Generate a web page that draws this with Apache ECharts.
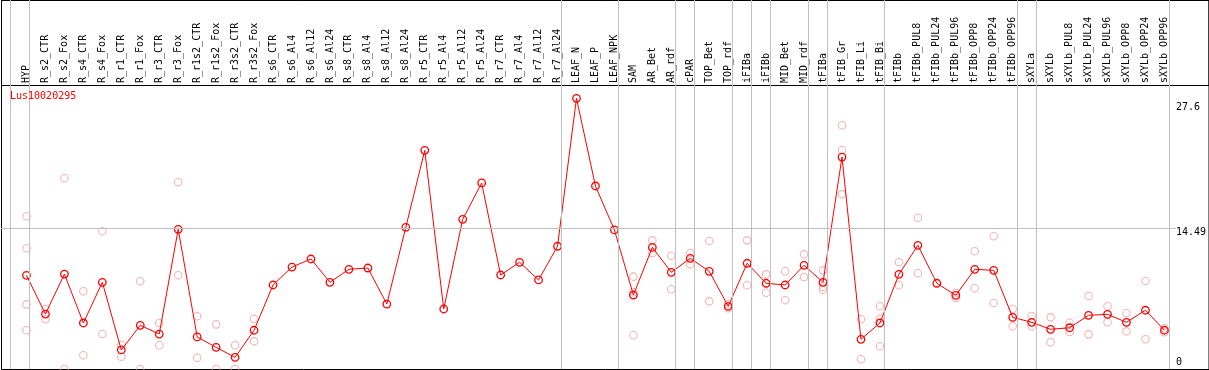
<!DOCTYPE html>
<html>
<head>
<meta charset="utf-8">
<script src="https://cdn.jsdelivr.net/npm/echarts@6/dist/echarts.min.js"></script>
<style>
html,body{margin:0;padding:0;background:#fff;}
#chart{width:1209px;height:370px;}
</style>
</head>
<body>
<div id="chart"></div>
<script>
const geneName = 'Lus10020295';
const categories = [
  'HYP','R_s2_CTR','R_s2_Fox','R_s4_CTR','R_s4_Fox','R_r1_CTR','R_r1_Fox','R_r3_CTR','R_r3_Fox',
  'R_r1s2_CTR','R_r1s2_Fox','R_r3s2_CTR','R_r3s2_Fox','R_s6_CTR','R_s6_Al4','R_s6_Al12','R_s6_Al24',
  'R_s8_CTR','R_s8_Al4','R_s8_Al12','R_s8_Al24','R_r5_CTR','R_r5_Al4','R_r5_Al12','R_r5_Al24',
  'R_r7_CTR','R_r7_Al4','R_r7_Al12','R_r7_Al24','LEAF_N','LEAF_P','LEAF_NPK','SAM','AR_Bet','AR_rdf',
  'cPAR','TOP_Bet','TOP_rdf','iFIBa','iFIBb','MID_Bet','MID_rdf','tFIBa','tFIB_Gr','tFIB_Li','tFIB_Bi',
  'tFIBb','tFIBb_PUL8','tFIBb_PUL24','tFIBb_PUL96','tFIBb_OPP8','tFIBb_OPP24','tFIBb_OPP96',
  'sXYLa','sXYLb','sXYLb_PUL8','sXYLb_PUL24','sXYLb_PUL96','sXYLb_OPP8','sXYLb_OPP24','sXYLb_OPP96'
];
const meanValues = [
  9.65, 5.66, 9.78, 4.74, 8.93, 1.96, 4.50, 3.60, 14.39,
  3.30, 2.23, 1.20, 3.99, 8.65, 10.50, 11.33, 8.93,
  10.27, 10.40, 6.69, 14.59, 22.52, 6.18, 15.42, 19.16,
  9.68, 10.99, 9.17, 12.64, 27.88, 18.85, 14.32, 7.62, 12.53, 9.96,
  11.40, 10.06, 6.46, 10.89, 8.83, 8.65, 10.68, 8.93, 21.83, 3.06, 4.74,
  9.75, 12.74, 8.83, 7.59, 10.27, 10.16, 5.32,
  4.81, 4.09, 4.25, 5.53, 5.63, 4.81, 6.05, 3.99
];
const replicateValues = [
  [15.73, 12.43, 6.66, 3.99], [6.15, 5.12], [19.64, 0], [8.00, 1.41], [14.18, 3.60],
  [2.47, 1.27], [9.03, 0], [4.74, 2.44], [19.23, 9.65],
  [5.43, 1.16], [4.60, 0], [2.44, 0], [5.18, 2.85], [], [], [], [],
  [], [], [], [], [], [], [], [],
  [], [], [], [], [], [], [], [9.51, 7.90, 3.47], [13.25, 11.95], [11.67, 8.21],
  [11.95, 10.78], [13.18, 6.97], [6.69, 6.25], [13.25, 8.62], [9.75, 7.86], [10.06, 7.08], [11.81, 9.47],
  [10.16, 8.48, 8.17], [25.10, 22.55, 17.99], [5.12, 1.00], [6.46, 5.18, 2.34],
  [10.99, 8.62], [15.58, 9.86], [], [7.86, 7.31], [12.12, 8.31], [13.67, 6.80], [6.18, 4.40],
  [5.46, 4.40], [5.32, 2.75], [4.77, 3.81], [7.52, 3.57], [6.46, 4.81], [5.77, 3.88], [9.06, 3.06], [4.19, 3.78]
];
// index of the first category of each group (separator line drawn before it)
const groupStarts = [0, 1, 29, 32, 35, 36, 38, 39, 40, 42, 43, 46, 53, 54, 61];
const yTickValues = [0, 14.49, 27.6];
const referenceLineValue = 14.49;

const MONO = 'DejaVu Sans Mono';
const repPoints = [];
replicateValues.forEach((arr, i) => arr.forEach(v => repPoints.push([i, v])));

const sepOffset = 16 / 19;
const chart = echarts.init(document.getElementById('chart'), null, {renderer: 'canvas'});
chart.setOption({
  animation: false,
  backgroundColor: '#ffffff',
  title: {
    text: geneName, left: 10, top: 91, padding: 0,
    textStyle: {color: '#ff0000', fontSize: 10, fontFamily: MONO, fontWeight: 'normal'}
  },
  grid: [
    {left: 17, right: 33, top: 85, height: 284},
    {left: 1, right: 33, top: 0, height: 369},
    {left: 1.5, right: -10, top: 0.5, height: 369, show: true, borderColor: '#000', borderWidth: 1, backgroundColor: 'transparent'},
    {left: 1.5, right: -10, top: 0.5, height: 85, show: true, borderColor: '#000', borderWidth: 1, backgroundColor: 'transparent'}
  ],
  xAxis: [
    {type: 'category', gridIndex: 0, position: 'top', data: categories, boundaryGap: true,
     axisLine: {show: false}, axisTick: {show: false}, splitLine: {show: false},
     axisLabel: {interval: 0, rotate: 90, margin: 2, fontFamily: MONO, fontSize: 10, color: '#000'}},
    {type: 'value', gridIndex: 1, min: -1.342, max: 60.5, show: false},
    {type: 'value', gridIndex: 2, show: false},
    {type: 'value', gridIndex: 3, show: false}
  ],
  yAxis: [
    {type: 'value', gridIndex: 0, position: 'right', min: 0, max: 29.25,
     axisLine: {show: false}, axisTick: {show: false}, splitLine: {show: false},
     axisLabel: {customValues: yTickValues, margin: 2, fontFamily: MONO, fontSize: 10, color: '#000',
       formatter: function (v) {
         if (v === 0) return '{a|0}';
         if (Math.abs(v - 14.49) < 1e-6) return '{b|14.49}';
         return '{c|' + v + '}';
       },
       rich: {
         a: {fontFamily: MONO, fontSize: 10, color: '#000', padding: [0, 0, 14, 0]},
         b: {fontFamily: MONO, fontSize: 10, color: '#000', padding: [8, 0, 0, 0]},
         c: {fontFamily: MONO, fontSize: 10, color: '#000', padding: [13, 0, 0, 0]}
       }}},
    {type: 'value', gridIndex: 1, min: 0, max: 38.0, show: false},
    {type: 'value', gridIndex: 2, show: false},
    {type: 'value', gridIndex: 3, show: false}
  ],
  series: [
    {
      type: 'line', xAxisIndex: 1, yAxisIndex: 1, data: [], z: 1, silent: true,
      markLine: {
        silent: true, symbol: 'none', animation: false,
        label: {show: false},
        lineStyle: {color: '#c0c0c0', width: 1, type: 'solid'},
        emphasis: {disabled: true},
        data: groupStarts.map(k => ({xAxis: k - sepOffset})).concat([{yAxis: referenceLineValue}])
      }
    },
    {
      type: 'scatter', xAxisIndex: 0, yAxisIndex: 0, data: repPoints, z: 2,
      symbol: 'circle', symbolSize: 7.5,
      itemStyle: {color: 'transparent', borderColor: '#f0a0a0', borderWidth: 1.1}
    },
    {
      type: 'line', xAxisIndex: 0, yAxisIndex: 0, data: meanValues, z: 3,
      symbol: 'circle', symbolSize: 7.5, showAllSymbol: true,
      lineStyle: {color: '#ff0000', width: 1},
      itemStyle: {color: 'transparent', borderColor: '#ff0000', borderWidth: 1.3}
    }
  ]
});
</script>
</body>
</html>
